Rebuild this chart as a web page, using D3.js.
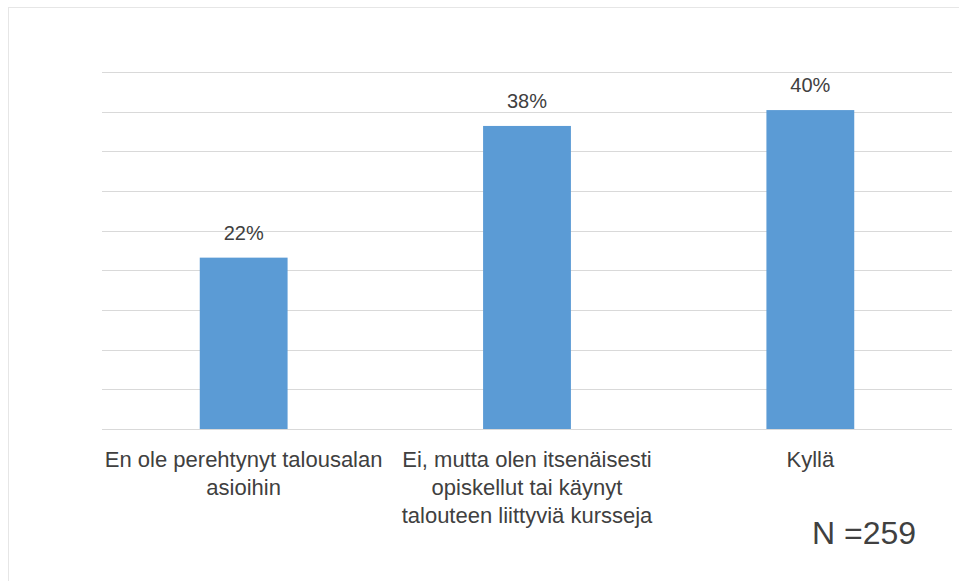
<!DOCTYPE html>
<html>
<head>
<meta charset="utf-8">
<script src="https://cdn.jsdelivr.net/npm/d3@7"></script>
<style>
  body { margin: 0; background: #fff; }
  svg text { font-family: "Liberation Sans", Arial, sans-serif; fill: #404040; }
</style>
</head>
<body>
<svg id="chart"></svg>
<script>
const categories = [
    ["En ole perehtynyt talousalan", "asioihin"],
    ["Ei, mutta olen itsenäisesti", "opiskellut tai käynyt", "talouteen liittyviä kursseja"],
    ["Kyllä"]
];
const values = [21.6, 38.2, 40.2];
const valueLabels = ["22%", "38%", "40%"];
const yTicks = [0, 5, 10, 15, 20, 25, 30, 35, 40, 45];
const noteText = "N =259";

const width = 959, height = 581;
const margin = { top: 72, right: 7, bottom: 152, left: 102 };

const svg = d3.select("#chart")
    .attr("width", width)
    .attr("height", height);

// outer frame (only top and left edges are visible)
svg.append("line").attr("x1", 8).attr("x2", width).attr("y1", 7.5).attr("y2", 7.5)
    .attr("stroke", "#e6e6e6").attr("stroke-width", 1);
svg.append("line").attr("x1", 8.5).attr("x2", 8.5).attr("y1", 7).attr("y2", height)
    .attr("stroke", "#e6e6e6").attr("stroke-width", 1);

const x = d3.scaleBand()
    .domain(d3.range(categories.length))
    .range([margin.left, width - margin.right])
    .padding(0);

const y = d3.scaleLinear()
    .domain([0, 45])
    .range([height - margin.bottom, margin.top]);

const barWidth = x.bandwidth() * 0.31;

// gridlines
svg.append("g")
    .selectAll("line")
    .data(yTicks)
    .join("line")
    .attr("x1", margin.left)
    .attr("x2", width - margin.right)
    .attr("y1", d => Math.round(y(d)) + 0.5)
    .attr("y2", d => Math.round(y(d)) + 0.5)
    .attr("stroke", "#d9d9d9")
    .attr("stroke-width", 1);

// bars
svg.append("g")
    .selectAll("rect")
    .data(values)
    .join("rect")
    .attr("x", (d, i) => x(i) + (x.bandwidth() - barWidth) / 2)
    .attr("width", barWidth)
    .attr("y", d => y(d))
    .attr("height", d => y(0) - y(d))
    .attr("fill", "#5b9bd5");

// value labels
svg.append("g")
    .selectAll("text")
    .data(values)
    .join("text")
    .attr("x", (d, i) => x(i) + x.bandwidth() / 2)
    .attr("y", d => y(d) - 18)
    .attr("text-anchor", "middle")
    .attr("font-size", 20)
    .text((d, i) => valueLabels[i]);

// category labels
const catG = svg.append("g")
    .selectAll("text")
    .data(categories)
    .join("text")
    .attr("x", (d, i) => x(i) + x.bandwidth() / 2)
    .attr("y", 467)
    .attr("text-anchor", "middle")
    .attr("font-size", 22);

catG.selectAll("tspan")
    .data(d => d)
    .join("tspan")
    .attr("x", function () { return this.parentNode.getAttribute("x"); })
    .attr("dy", (d, i) => i === 0 ? 0 : 28)
    .text(d => d);

// sample size note
svg.append("text")
    .attr("x", 812)
    .attr("y", 544)
    .attr("font-size", 32)
    .text(noteText);
</script>
</body>
</html>
